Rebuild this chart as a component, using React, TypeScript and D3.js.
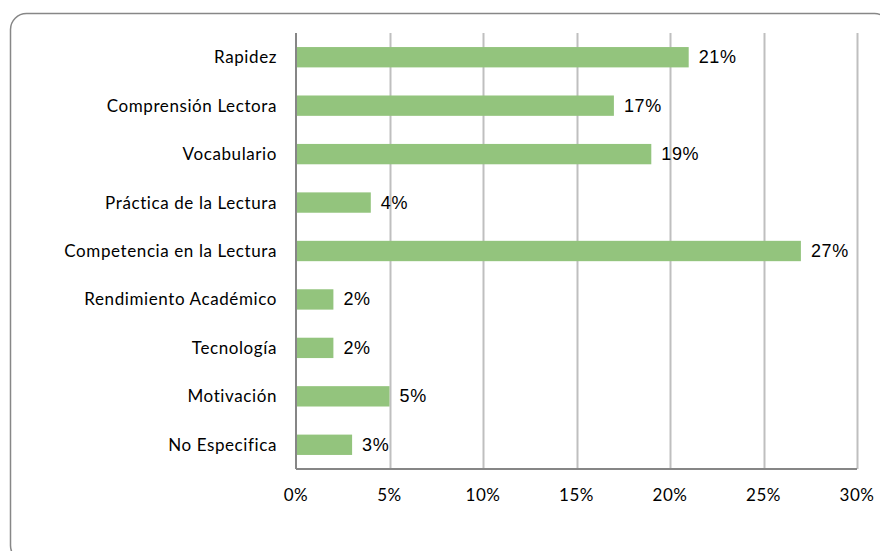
import React from "react";
import * as d3 from "d3";

const categories = [
  "Rapidez",
  "Comprensión Lectora",
  "Vocabulario",
  "Práctica de la Lectura",
  "Competencia en la Lectura",
  "Rendimiento Académico",
  "Tecnología",
  "Motivación",
  "No Especifica",
];
const values = [21, 17, 19, 4, 27, 2, 2, 5, 3];
const tickValues = [0, 5, 10, 15, 20, 25, 30];

export default function App() {
  const W = 880;
  const H = 551;
  const left = 296;
  const right = 857;
  const top = 33;
  const bottom = 469;
  const x = d3.scaleLinear().domain([0, 30]).range([left, right]);
  const y = d3.scaleBand<string>().domain(categories).range([top, bottom]).paddingInner(0.58).paddingOuter(0.29);
  const catFont = "Lato, 'Open Sans', sans-serif";
  const valFont = "'Liberation Sans', Arial, sans-serif";
  return (
    <svg width={W} height={H} style={{ position: "absolute", left: 0, top: 0, background: "#fff" }}>
      <rect x={10.5} y={13.5} width={880} height={548} rx={16} ry={16} fill="#fff" stroke="#878787" strokeWidth={1.5} />
      {tickValues.slice(1).map((t) => (
        <line key={t} x1={Math.round(x(t)) + 0.5} x2={Math.round(x(t)) + 0.5} y1={top} y2={bottom} stroke="#BFBFBF" strokeWidth={2} />
      ))}
      {categories.map((c, i) => (
        <rect key={c} x={x(0)} y={y(c)} width={x(values[i]) - x(0)} height={y.bandwidth()} fill="#93C47D" />
      ))}
      <line x1={left} x2={left} y1={top} y2={bottom} stroke="#868686" strokeWidth={2} />
      <line x1={left} x2={right} y1={bottom} y2={bottom} stroke="#868686" strokeWidth={2} />
      {categories.map((c) => (
        <text key={c} x={277} y={(y(c) ?? 0) + y.bandwidth() / 2 + 6} textAnchor="end" fontFamily={catFont} fontSize={17} letterSpacing={0.6} fill="#000">
          {c}
        </text>
      ))}
      {categories.map((c, i) => (
        <text key={c} x={x(values[i]) + 10} y={(y(c) ?? 0) + y.bandwidth() / 2 + 6} fontFamily={valFont} fontSize={18} letterSpacing={0.6} fill="#000">
          {values[i]}%
        </text>
      ))}
      {tickValues.map((t) => (
        <text key={t} x={x(t)} y={501} textAnchor="middle" fontFamily={catFont} fontSize={17} letterSpacing={0.6} fill="#000">
          {t}%
        </text>
      ))}
    </svg>
  );
}
